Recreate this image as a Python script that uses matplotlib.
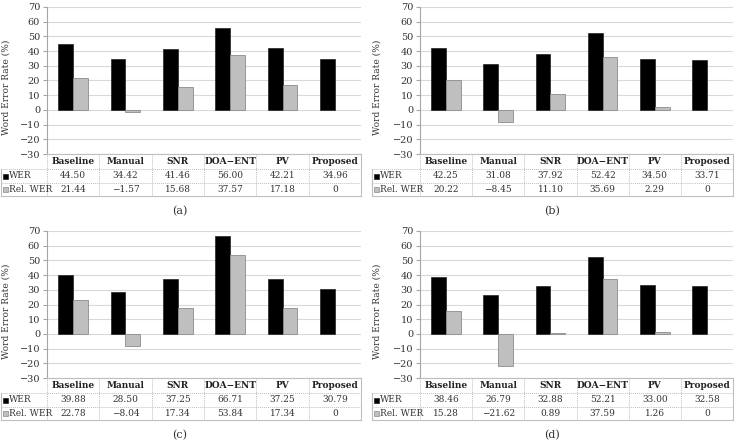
import matplotlib
matplotlib.use("Agg")
import matplotlib.pyplot as plt
from matplotlib.lines import Line2D
from matplotlib.patches import Rectangle

categories = ["Baseline", "Manual", "SNR", "DOA\u2212ENT", "PV", "Proposed"]
series_names = ["WER", "Rel. WER"]
captions = ["(a)", "(b)", "(c)", "(d)"]

wer_a = [44.50, 34.42, 41.46, 56.00, 42.21, 34.96]
rel_a = [21.44, -1.57, 15.68, 37.57, 17.18, 0]
wer_b = [42.25, 31.08, 37.92, 52.42, 34.50, 33.71]
rel_b = [20.22, -8.45, 11.10, 35.69, 2.29, 0]
wer_c = [39.88, 28.50, 37.25, 66.71, 37.25, 30.79]
rel_c = [22.78, -8.04, 17.34, 53.84, 17.34, 0]
wer_d = [38.46, 26.79, 32.88, 52.21, 33.00, 32.58]
rel_d = [15.28, -21.62, 0.89, 37.59, 1.26, 0]

wer_labels_a = ["44.50", "34.42", "41.46", "56.00", "42.21", "34.96"]
rel_labels_a = ["21.44", "\u22121.57", "15.68", "37.57", "17.18", "0"]
wer_labels_b = ["42.25", "31.08", "37.92", "52.42", "34.50", "33.71"]
rel_labels_b = ["20.22", "\u22128.45", "11.10", "35.69", "2.29", "0"]
wer_labels_c = ["39.88", "28.50", "37.25", "66.71", "37.25", "30.79"]
rel_labels_c = ["22.78", "\u22128.04", "17.34", "53.84", "17.34", "0"]
wer_labels_d = ["38.46", "26.79", "32.88", "52.21", "33.00", "32.58"]
rel_labels_d = ["15.28", "\u221221.62", "0.89", "37.59", "1.26", "0"]

yticks = [-30, -20, -10, 0, 10, 20, 30, 40, 50, 60, 70]

panels = [
    (wer_a, rel_a, wer_labels_a, rel_labels_a),
    (wer_b, rel_b, wer_labels_b, rel_labels_b),
    (wer_c, rel_c, wer_labels_c, rel_labels_c),
    (wer_d, rel_d, wer_labels_d, rel_labels_d),
]

W, H = 735, 445
fig = plt.figure(figsize=(W / 100, H / 100), dpi=100)
FONT = "DejaVu Serif"
TXT = "#333333"
GRID = "#d9d9d9"
TBL = "#bfbfbf"
BLACK_BAR = "#000000"
GREY_BAR = "#bfbfbf"

# pixel layout of each panel: (axes left, axes right, axes top, axes bottom, panel left, caption x)
layouts = [
    (47, 361, 7, 154, 1, 180),
    (420, 733, 7, 154, 372, 552),
    (47, 361, 231, 378, 1, 180),
    (420, 733, 231, 378, 372, 552),
]
row_h = [15, 14, 13]

def fx(px):
    return px / W

def fy(py):
    return 1 - py / H

for (wer, rel, wl, rl), (L, R, T, B, PL, CX), cap in zip(panels, layouts, captions):
    ax = fig.add_axes([fx(L), fy(B), fx(R - L), (B - T) / H])
    n = len(categories)
    w = 1 / 3.5
    xs = list(range(n))
    ax.bar([x - w / 2 for x in xs], wer, width=w, color=BLACK_BAR,
           edgecolor="#222222", linewidth=0.5, zorder=3)
    ax.bar([x + w / 2 for x in xs], rel, width=w, color=GREY_BAR,
           edgecolor=["#8c8c8c" if v != 0 else "none" for v in rel],
           linewidth=0.6, zorder=3)
    ax.set_xlim(-0.5, n - 0.5)
    ax.set_ylim(-30, 70)
    ax.set_yticks(yticks)
    ax.set_yticklabels([("\u2212" + str(-t)) if t < 0 else str(t) for t in yticks],
                       fontfamily=FONT, fontsize=7, color=TXT)
    ax.set_xticks([])
    ax.grid(axis="y", color=GRID, linewidth=0.8, zorder=0)
    for s in ["top", "right", "bottom"]:
        ax.spines[s].set_visible(False)
    ax.spines["left"].set_color("#a6a6a6")
    ax.spines["left"].set_linewidth(0.8)
    ax.tick_params(axis="y", length=3, color="#a6a6a6", pad=2)
    fig.text(fx(PL + 5), fy(T + 80), "Word Error Rate (%)", rotation=90,
             ha="center", va="center", fontfamily=FONT, fontsize=6.5, color=TXT)

    # table
    col_w = (R - L) / n
    y0 = B
    y1 = B + row_h[0]
    y2 = y1 + row_h[1]
    y3 = y2 + row_h[2]
    fig.add_artist(Line2D([fx(L), fx(R)], [fy(y0), fy(y0)], color=TBL, lw=0.8))
    fig.add_artist(Line2D([fx(PL), fx(R)], [fy(y1), fy(y1)], color=TBL, lw=0.7, ls=(0, (1, 1))))
    fig.add_artist(Line2D([fx(PL), fx(R)], [fy(y2), fy(y2)], color=TBL, lw=0.7, ls=(0, (1, 1))))
    fig.add_artist(Line2D([fx(PL), fx(R)], [fy(y3), fy(y3)], color=TBL, lw=0.8))
    fig.add_artist(Line2D([fx(PL), fx(PL)], [fy(y1), fy(y3)], color=TBL, lw=0.8))
    fig.add_artist(Line2D([fx(R), fx(R)], [fy(y0), fy(y3)], color=TBL, lw=0.8))
    for i in range(n):
        xl = L + i * col_w
        fig.add_artist(Line2D([fx(xl), fx(xl)], [fy(y0), fy(y3)], color=TBL, lw=0.7,
                              ls=(0, (1, 1))))
    for i, c in enumerate(categories):
        xc = L + (i + 0.5) * col_w
        fig.text(fx(xc), fy((y0 + y1) / 2), c, ha="center", va="center",
                 fontfamily=FONT, fontsize=6.5, color="#222222", fontweight="bold")
        fig.text(fx(xc), fy((y1 + y2) / 2), wl[i], ha="center", va="center",
                 fontfamily=FONT, fontsize=6.5, color=TXT)
        fig.text(fx(xc), fy((y2 + y3) / 2), rl[i], ha="center", va="center",
                 fontfamily=FONT, fontsize=6.5, color=TXT)
    for (ya, yb), name, fc, ec in [((y1, y2), series_names[0], BLACK_BAR, "#222222"),
                                   ((y2, y3), series_names[1], GREY_BAR, "#8c8c8c")]:
        ym = (ya + yb) / 2
        fig.add_artist(Rectangle((fx(PL + 2), fy(ym + 2.5)), fx(5), 5 / H,
                                 facecolor=fc, edgecolor=ec, lw=0.5))
        fig.text(fx(PL + 8), fy(ym), name, ha="left", va="center",
                 fontfamily=FONT, fontsize=6.5, color=TXT)
    fig.text(fx(CX), fy(y3 + 15), cap, ha="center", va="center",
             fontfamily=FONT, fontsize=8, color=TXT)

fig.savefig("out.png", dpi=100)
